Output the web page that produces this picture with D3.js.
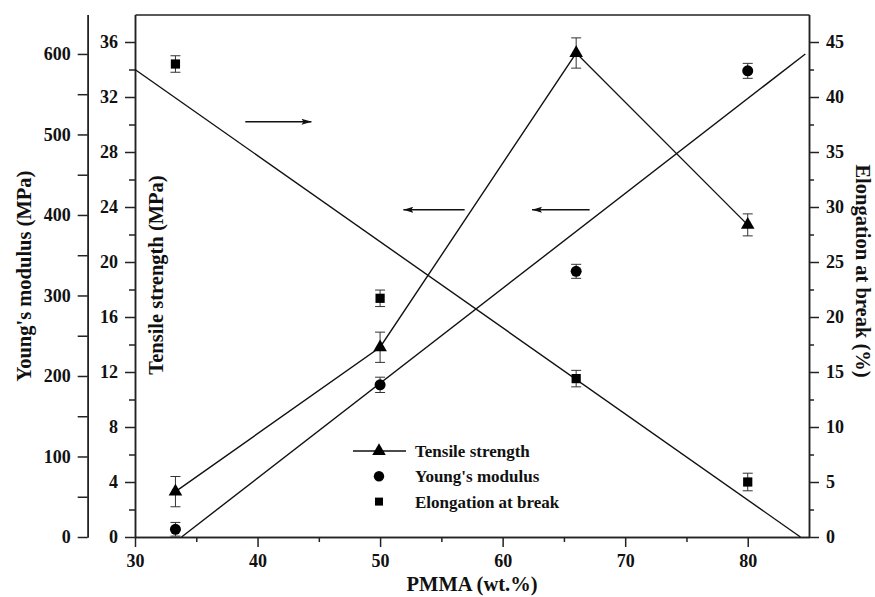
<!DOCTYPE html>
<html>
<head>
<meta charset="utf-8">
<style>
  body { margin: 0; background: #fff; }
  svg { display: block; font-family: "Liberation Serif", "Times New Roman", serif; font-weight: bold; }
  .axis path, .axis line { stroke: #222; stroke-width: 1.5; }
  .axis text { font-family: "Liberation Serif", serif; font-size: 18px; font-weight: bold; fill: #111; }
  .title { font-size: 20.5px; fill: #111; }
</style>
<script src="https://d3js.org/d3.v7.min.js"></script>
</head>
<body>
<svg width="875" height="597"></svg>
<script>
// PMMA content of the blends
var pmma = [33.3, 50, 66, 80];

// measured values and error bars
var tensile = [3.3, 13.8, 35.2, 22.7];
var tensileErr = [1.1, 1.1, 1.1, 0.8];
var young = [9.6, 189, 330, 579];
var youngErr = [8.5, 9.5, 8.7, 9.3];
var elong = [43.0, 21.7, 14.4, 5.0];
var elongErr = [0.75, 0.75, 0.75, 0.8];

// straight fit lines (end points)
var youngFitX = [33.8, 84.7], youngFitY = [0, 600];
var elongFitX = [30, 84.3], elongFitY = [42.5, 0];

// tick labels
var xTicks = [30, 40, 50, 60, 70, 80];
var tensileTicks = [0, 4, 8, 12, 16, 20, 24, 28, 32, 36];
var youngTicks = [0, 100, 200, 300, 400, 500, 600];
var elongTicks = [0, 5, 10, 15, 20, 25, 30, 35, 40, 45];

// arrows pointing to the axis each curve belongs to (x from, x to, tensile level)
var arrowFrom = [39.0, 56.9, 67.1];
var arrowTo = [44.4, 51.9, 62.4];
var arrowLevel = [30.2, 23.8, 23.8];

var legendNames = ["Tensile strength", "Young's modulus", "Elongation at break"];

function draw() {
  var svg = d3.select("svg");
  var pl = 135, pr = 809, pt = 14.5, pb = 537;

  var x = d3.scaleLinear().domain([30, 85]).range([pl, pr]);
  var yT = d3.scaleLinear().domain([0, 38]).range([pb, pt]);
  var yY = d3.scaleLinear().domain([0, 649]).range([pb, pt]);
  var yE = d3.scaleLinear().domain([0, 47.5]).range([pb, pt]);

  svg.append("defs").append("marker")
      .attr("id", "head")
      .attr("viewBox", "0 0 10 6")
      .attr("refX", 10).attr("refY", 3)
      .attr("markerWidth", 10).attr("markerHeight", 6)
      .attr("markerUnits", "userSpaceOnUse")
      .attr("orient", "auto")
    .append("path")
      .attr("d", "M0,0L10,3L0,6L2,3Z")
      .attr("fill", "#111");

  // minor ticks first so major ones sit on top
  function minor(g, axis, values, size) {
    g.call(axis.tickValues(values).tickSize(size).tickSizeOuter(0).tickFormat(""));
  }

  svg.append("g").attr("class", "axis").attr("transform", "translate(0," + pb + ")")
      .call(minor, d3.axisBottom(x), [35, 45, 55, 65, 75], 5);
  svg.append("g").attr("class", "axis").attr("transform", "translate(0," + pb + ")")
      .call(d3.axisBottom(x).tickValues(xTicks).tickSize(10).tickPadding(7).tickSizeOuter(0));

  svg.append("g").attr("class", "axis").attr("transform", "translate(0," + pt + ")")
      .call(d3.axisTop(x).tickValues([]).tickSizeOuter(0));

  svg.append("g").attr("class", "axis").attr("transform", "translate(" + pl + ",0)")
      .call(minor, d3.axisLeft(yT), d3.range(2, 36, 4), 6);
  svg.append("g").attr("class", "axis").attr("transform", "translate(" + pl + ",0)")
      .call(d3.axisLeft(yT).tickValues(tensileTicks).tickSize(10).tickPadding(7).tickSizeOuter(0));

  svg.append("g").attr("class", "axis").attr("transform", "translate(87.7,0)")
      .call(minor, d3.axisLeft(yY), [50, 150, 250, 350, 450, 550], 10);
  svg.append("g").attr("class", "axis").attr("transform", "translate(87.7,0)")
      .call(d3.axisLeft(yY).tickValues(youngTicks).tickSize(10).tickPadding(7).tickSizeOuter(0));

  svg.append("g").attr("class", "axis").attr("transform", "translate(" + pr + ",0)")
      .call(minor, d3.axisRight(yE), d3.range(2.5, 45, 5), 5);
  svg.append("g").attr("class", "axis").attr("transform", "translate(" + pr + ",0)")
      .call(d3.axisRight(yE).tickValues(elongTicks).tickSize(10).tickPadding(7).tickSizeOuter(0));

  // axis titles
  svg.append("text").attr("class", "title").attr("text-anchor", "middle")
      .attr("transform", "translate(31,276) rotate(-90)").text("Young's modulus (MPa)");
  svg.append("text").attr("class", "title").attr("text-anchor", "middle")
      .attr("transform", "translate(163,275) rotate(-90)").text("Tensile strength (MPa)");
  svg.append("text").attr("class", "title").attr("text-anchor", "middle")
      .attr("transform", "translate(856,271) rotate(90)").text("Elongation at break (%)");
  svg.append("text").attr("class", "title").attr("text-anchor", "middle")
      .attr("x", (pl + pr) / 2).attr("y", 591).text("PMMA (wt.%)");

  // lines
  var lineStyle = function(p) {
    p.attr("fill", "none").attr("stroke", "#111").attr("stroke-width", 1.4);
  };
  svg.append("path").datum(d3.zip(pmma, tensile)).call(lineStyle)
      .attr("d", d3.line().x(function(d) { return x(d[0]); }).y(function(d) { return yT(d[1]); }));
  svg.append("path").datum(d3.zip(youngFitX, youngFitY)).call(lineStyle)
      .attr("d", d3.line().x(function(d) { return x(d[0]); }).y(function(d) { return yY(d[1]); }));
  svg.append("path").datum(d3.zip(elongFitX, elongFitY)).call(lineStyle)
      .attr("d", d3.line().x(function(d) { return x(d[0]); }).y(function(d) { return yE(d[1]); }));

  // arrows
  svg.selectAll("line.arrow").data(d3.zip(arrowFrom, arrowTo, arrowLevel)).enter()
    .append("line").attr("class", "arrow")
      .attr("x1", function(d) { return x(d[0]); })
      .attr("x2", function(d) { return x(d[1]); })
      .attr("y1", function(d) { return yT(d[2]); })
      .attr("y2", function(d) { return yT(d[2]); })
      .attr("stroke", "#111").attr("stroke-width", 1.4)
      .attr("marker-end", "url(#head)");

  // points with error bars
  function series(vals, errs, scale, shape, size) {
    var g = svg.append("g");
    var rows = d3.zip(pmma, vals, errs);
    var eb = g.selectAll("g.eb").data(rows).enter().append("g")
        .attr("stroke", "#333").attr("stroke-width", 1);
    eb.append("line")
        .attr("x1", function(d) { return x(d[0]); }).attr("x2", function(d) { return x(d[0]); })
        .attr("y1", function(d) { return scale(d[1] - d[2]); })
        .attr("y2", function(d) { return scale(d[1] + d[2]); });
    [-1, 1].forEach(function(s) {
      eb.append("line")
          .attr("x1", function(d) { return x(d[0]) - 5; }).attr("x2", function(d) { return x(d[0]) + 5; })
          .attr("y1", function(d) { return scale(d[1] + s * d[2]); })
          .attr("y2", function(d) { return scale(d[1] + s * d[2]); });
    });
    g.selectAll("path.pt").data(rows).enter().append("path")
        .attr("d", d3.symbol().type(shape).size(size))
        .attr("transform", function(d) { return "translate(" + x(d[0]) + "," + scale(d[1]) + ")"; })
        .attr("fill", "#000");
  }
  series(tensile, tensileErr, yT, d3.symbolTriangle, 80);
  series(young, youngErr, yY, d3.symbolCircle, 95);
  series(elong, elongErr, yE, d3.symbolSquare, 85);

  // legend
  var lg = svg.append("g");
  var shapes = [d3.symbolTriangle, d3.symbolCircle, d3.symbolSquare];
  var sizes = [80, 85, 64];
  lg.append("line").attr("x1", 353).attr("x2", 406).attr("y1", 451).attr("y2", 451)
      .attr("stroke", "#111").attr("stroke-width", 1.4);
  legendNames.forEach(function(name, i) {
    var yy = 451 + i * 25.3;
    lg.append("path").attr("d", d3.symbol().type(shapes[i]).size(sizes[i]))
        .attr("transform", "translate(379," + yy + ")").attr("fill", "#000");
    lg.append("text").attr("x", 415).attr("y", yy + 6).attr("font-size", "17px")
        .attr("fill", "#111").text(name);
  });
}

draw();
</script>
</body>
</html>
